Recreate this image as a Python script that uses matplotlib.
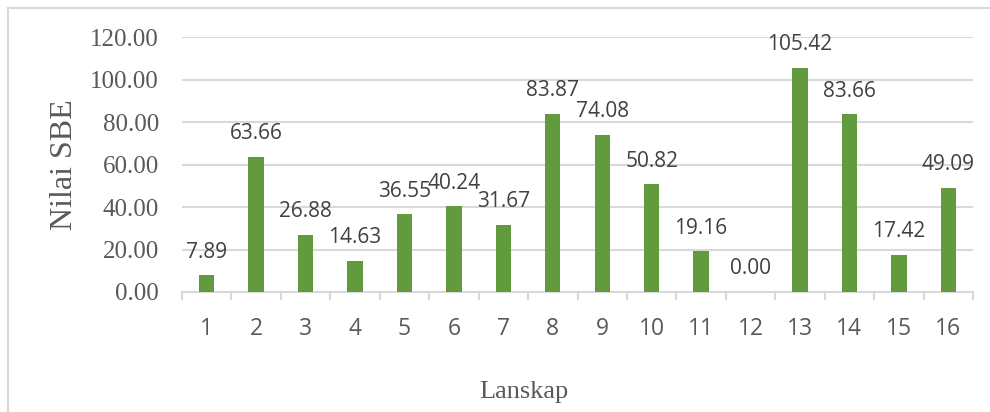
import matplotlib
matplotlib.use("Agg")
import matplotlib.pyplot as plt
from matplotlib.patches import Rectangle

categories = ["1", "2", "3", "4", "5", "6", "7", "8", "9", "10", "11", "12", "13", "14", "15", "16"]
values = [7.89, 63.66, 26.88, 14.63, 36.55, 40.24, 31.67, 83.87, 74.08, 50.82, 19.16, 0.00, 105.42, 83.66, 17.42, 49.09]
yticks = [0, 20, 40, 60, 80, 100, 120]

W, H = 990, 412
fig = plt.figure(figsize=(W / 100, H / 100), dpi=100)
ax = fig.add_axes([182 / W, 1 - 292 / H, (973 - 182) / W, (292 - 37) / H])

x = list(range(len(categories)))
ax.bar(x, values, width=0.31, color="#629B3E", zorder=3)
ax.set_xlim(-0.5, len(categories) - 0.5)
ax.set_ylim(0, 120)

ax.set_yticks(yticks)
ax.set_yticklabels([f"{v:.2f}" for v in yticks], fontfamily="Liberation Serif", fontsize=18, color="#595959")
ax.tick_params(axis="y", length=0, pad=16.5)
ax.yaxis.grid(True, color="#d9d9d9", linewidth=1.5, zorder=0)

ax.set_xticks(x)
ax.set_xticklabels(categories, fontfamily="Open Sans", fontsize=16.5, color="#595959")
ax.set_xticks([i - 0.5 for i in range(len(categories) + 1)], minor=True)
ax.tick_params(axis="x", which="major", length=0, pad=18)
ax.tick_params(axis="x", which="minor", length=6, width=1.5, color="#d9d9d9", direction="out")

for s in ["top", "right", "left"]:
    ax.spines[s].set_visible(False)
ax.spines["bottom"].set_color("#d9d9d9")
ax.spines["bottom"].set_linewidth(1.5)

for xi, v in zip(x, values):
    ax.annotate(f"{v:.2f}", xy=(xi, v), xytext=(0, 12.6), textcoords="offset points",
                ha="center", va="baseline", fontfamily="Open Sans", fontsize=15, color="#404040", zorder=4)

fig.text(72 / W, 1 - 165 / H, "Nilai SBE", rotation=90, rotation_mode="anchor", ha="center", va="baseline",
         fontfamily="Liberation Serif", fontsize=23, color="#595959")
fig.text(524 / W, 1 - 398 / H, "Lanskap", ha="center", va="baseline",
         fontfamily="Liberation Serif", fontsize=19, color="#595959")

fig.add_artist(Rectangle((7.5 / W, -0.2), 1.2, 1.2 - 7.5 / H, transform=fig.transFigure,
                         fill=False, edgecolor="#d9d9d9", linewidth=1.5))

fig.savefig("out.png", dpi=100)
